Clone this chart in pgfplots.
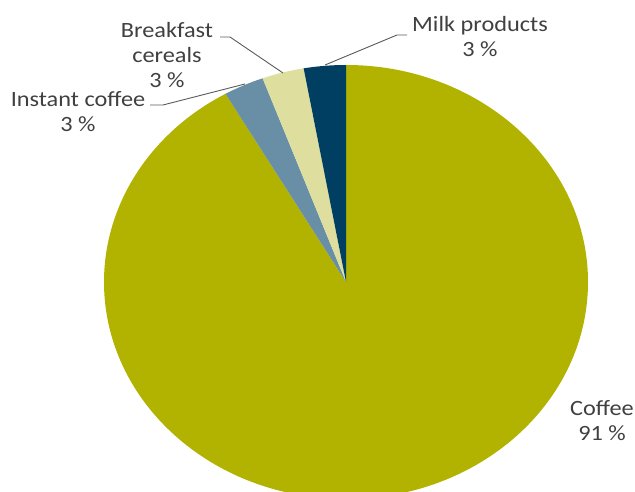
\documentclass[border=0pt]{standalone}
\usepackage{pgfplots}
\pgfplotsset{compat=1.18}
\usepackage{pgfplotstable}
\usepackage{graphicx}
\usepackage{fontspec}
\setmainfont{Carlito}

\definecolor{cCoffee}{RGB}{177,179,0}
\definecolor{cInstant}{RGB}{104,143,165}
\definecolor{cBreak}{RGB}{222,222,158}
\definecolor{cMilk}{RGB}{0,63,98}
\definecolor{cText}{RGB}{64,64,64}
\definecolor{cLine}{RGB}{90,90,90}

\pgfplotstableread{
label value
Coffee 91.7
Instant 2.7
Breakfast 2.8
Milk 2.8
}\piedata

\newcommand\lab[1]{\scalebox{1.115}[1]{\fontsize{21.8}{25}\selectfont\begin{tabular}[t]{@{}c@{}}#1\end{tabular}}}

\begin{document}
\begin{tikzpicture}
\pgfplotstablegetelem{0}{value}\of\piedata \let\vA\pgfplotsretval
\pgfplotstablegetelem{1}{value}\of\piedata \let\vB\pgfplotsretval
\pgfplotstablegetelem{2}{value}\of\piedata \let\vC\pgfplotsretval
\pgfplotstablegetelem{3}{value}\of\piedata \let\vD\pgfplotsretval
\pgfmathsetmacro\aA{90-3.6*\vA}
\pgfmathsetmacro\aB{\aA-3.6*\vB}
\pgfmathsetmacro\aC{\aB-3.6*\vC}
\pgfmathsetmacro\aD{\aC-3.6*\vD}
\begin{axis}[scale only axis, width=635pt, height=492pt,
  xmin=0, xmax=635, ymin=0, ymax=492, hide axis, clip=true]
\fill[cCoffee] (axis cs:346,210) -- ++(90:242pt and 217pt) arc[start angle=90, end angle=\aA, x radius=242pt, y radius=217pt] -- cycle;
\fill[cInstant] (axis cs:346,210) -- ++(\aA:242pt and 217pt) arc[start angle=\aA, end angle=\aB, x radius=242pt, y radius=217pt] -- cycle;
\fill[cBreak] (axis cs:346,210) -- ++(\aB:242pt and 217pt) arc[start angle=\aB, end angle=\aC, x radius=242pt, y radius=217pt] -- cycle;
\fill[cMilk] (axis cs:346,210) -- ++(\aC:242pt and 217pt) arc[start angle=\aC, end angle=\aD, x radius=242pt, y radius=217pt] -- cycle;

\draw[cLine, line width=0.9pt] (axis cs:325,427) -- (axis cs:397,457) -- (axis cs:407,457);
\draw[cLine, line width=0.9pt] (axis cs:283,419) -- (axis cs:230,455) -- (axis cs:220,455);
\draw[cLine, line width=0.9pt] (axis cs:245,408) -- (axis cs:163,387) -- (axis cs:150,387);

\node[anchor=base, inner sep=0pt, text=cText] at (axis cs:480,460) {\lab{Milk products\\3 \%}};
\node[anchor=base, inner sep=0pt, text=cText] at (axis cs:167,454) {\lab{Breakfast\\cereals\\3 \%}};
\node[anchor=base, inner sep=0pt, text=cText] at (axis cs:78,385) {\lab{Instant coffee\\3 \%}};
\node[anchor=base, inner sep=0pt, text=cText] at (axis cs:602,76) {\lab{Coffee\\91 \%}};
\end{axis}
\pgfresetboundingbox
\path[use as bounding box] (0,0) rectangle (635pt,492pt);
\end{tikzpicture}
\end{document}
